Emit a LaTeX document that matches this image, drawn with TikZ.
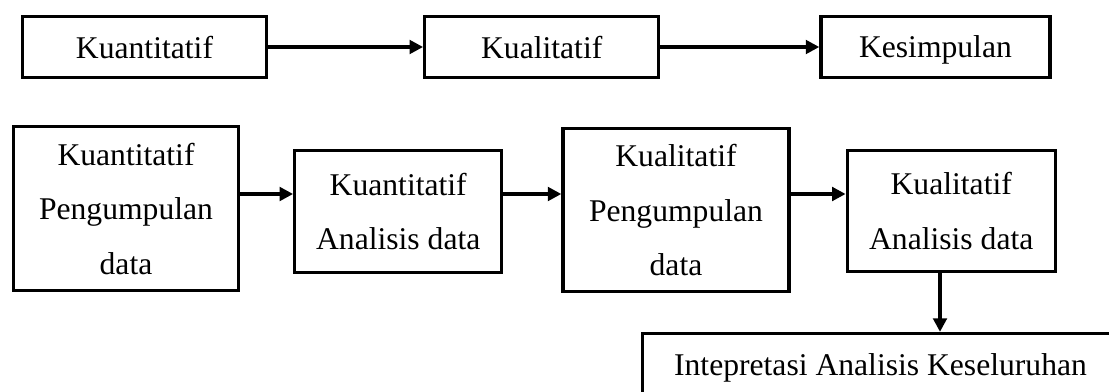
\documentclass[tikz,border=0pt]{standalone}
\usepackage{fontspec}
\setmainfont{Liberation Serif}
\usetikzlibrary{arrows.meta,positioning}
\tikzset{
  flowbox/.style={draw=black, line width=0.066cm, align=center, inner sep=0pt, text depth=0pt},
  flowarr/.style={-{Triangle[length=0.27cm,width=0.27cm]}, line width=0.066cm, draw=black}
}

\begin{document}
\begin{tikzpicture}[x=0.02cm, y=-0.02cm, font=\fontsize{18pt}{31pt}\selectfont]
  \useasboundingbox (0,0) rectangle (1109,392);
  \clip (0,0) rectangle (1109,392);
  \node[flowbox, minimum width=4.88cm, minimum height=1.22cm] (kuan) at (144.5,47) {Kuantitatif};
  \node[flowbox, minimum width=4.68cm, minimum height=1.22cm, right=3.1cm of kuan] (kual) {Kualitatif};
  \node[flowbox, minimum width=4.58cm, minimum height=1.22cm, right=3.18cm of kual] (simp) {Kesimpulan};
  \draw[flowarr] (kuan) -- (kual);
  \draw[flowarr] (kual) -- (simp);
  \node[flowbox, minimum width=4.5cm, minimum height=3.28cm] (kpd) at (126,208.5) {Kuantitatif\\Pengumpulan\\data};
  \node[flowbox, minimum width=4.14cm, minimum height=2.44cm, right=1.06cm of kpd, yshift=-0.06cm] (kad) {Kuantitatif\\Analisis data};
  \node[flowbox, minimum width=4.52cm, minimum height=3.26cm, right=1.16cm of kad, yshift=0.03cm] (lpd) {Kualitatif\\Pengumpulan\\data};
  \node[flowbox, minimum width=4.16cm, minimum height=2.42cm, right=1.1cm of lpd, yshift=-0.02cm] (lad) {Kualitatif\\Analisis data};
  \node[flowbox, minimum width=9.52cm, minimum height=1.24cm] (intp) at (880.5,364.5) {Intepretasi Analisis Keseluruhan};
  \coordinate (ry) at (0,194);
  \coordinate (dx) at (940,0);
  \draw[flowarr] (kpd.east |- ry) -- (kad.west |- ry);
  \draw[flowarr] (kad.east |- ry) -- (lpd.west |- ry);
  \draw[flowarr] (lpd.east |- ry) -- (lad.west |- ry);
  \draw[flowarr] (lad.south -| dx) -- (intp.north -| dx);
\end{tikzpicture}
\end{document}
